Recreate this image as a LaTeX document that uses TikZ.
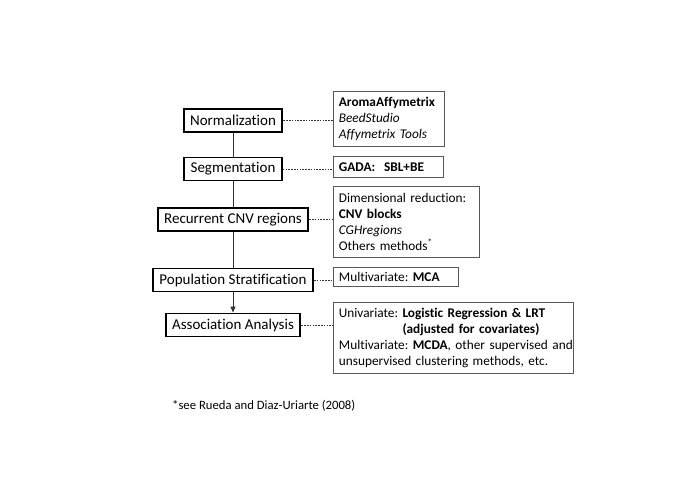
\documentclass[tikz,border=0pt]{standalone}
\usepackage{fontspec}
\setmainfont[Ligatures=NoCommon]{Carlito}
\usetikzlibrary{arrows.meta}
\frenchspacing
\begin{document}
\begin{tikzpicture}[x=1pt,y=-1pt,
  stepbox/.style={draw=black,line width=1.9pt,minimum height=23pt,inner xsep=6.5pt,inner ysep=2pt,
    font=\fontsize{15}{18}\selectfont},
  toolbox/.style={draw=black!65,line width=0.8pt,anchor=north west,align=left,inner xsep=5.5pt,inner ysep=2pt,
    font=\fontsize{13.3}{16}\selectfont},
  link/.style={draw=black!80,line width=0.8pt},
  dlink/.style={draw=black!80,line width=0.6pt,dash pattern=on 1.6pt off 1.2pt}]
\useasboundingbox (0,0) rectangle (685,484);
% left column
\node[stepbox] (norm) at (233,120.5) {Normalization};
\node[stepbox] (seg) at (233,169) {Segmentation};
\node[stepbox] (rec) at (233,219.5) {Recurrent CNV regions};
\node[stepbox] (pop) at (233,280) {Population Stratification};
\node[stepbox] (asc) at (233,325) {Association Analysis};
% right column
\node[toolbox,text width=100pt,minimum height=55pt] (b1) at (333,91)
  {\textbf{AromaAffymetrix}\\\textit{BeedStudio}\\\textit{Affymetrix Tools}};
\node[toolbox,text width=99pt,minimum height=21pt] (b2) at (333,156)
  {\textbf{GADA:\ \ SBL+BE}};
\node[toolbox,text width=135pt,minimum height=71pt] (b3) at (333,186)
  {Dimensional reduction:\\\textbf{CNV blocks}\\\textit{CGHregions}\\Others methods\textsuperscript{*}};
\node[toolbox,text width=114pt,minimum height=19pt] (b4) at (333,267)
  {Multivariate: \textbf{MCA}};
\node[toolbox,text width=229pt,minimum height=71pt] (b5) at (333,302)
  {Univariate: \textbf{Logistic Regression \& LRT}\\
   \phantom{Univariate: }\textbf{(adjusted for covariates)}\\
   \mbox{Multivariate: \textbf{MCDA}, other supervised and}\\
   unsupervised clustering methods, etc.};
% footnote
\node[anchor=west,inner sep=0pt,font=\fontsize{12.7}{15}\selectfont] (fn) at (172,406)
  {*see Rueda and Diaz-Uriarte (2008)};
% connectors
\draw[link] (norm) -- (seg);
\draw[link] (seg) -- (rec);
\draw[link] (rec) -- (pop);
\draw[link,-{Triangle[length=6pt,width=5pt]}] (pop) -- (asc);
\draw[dlink] (norm.east) -- (norm.east -| b1.west);
\draw[dlink] (seg.east) -- (seg.east -| b2.west);
\draw[dlink] (rec.east) -- (rec.east -| b3.west);
\draw[dlink] (pop.east) -- (pop.east -| b4.west);
\draw[dlink] (asc.east) -- (asc.east -| b5.west);
\end{tikzpicture}
\end{document}
